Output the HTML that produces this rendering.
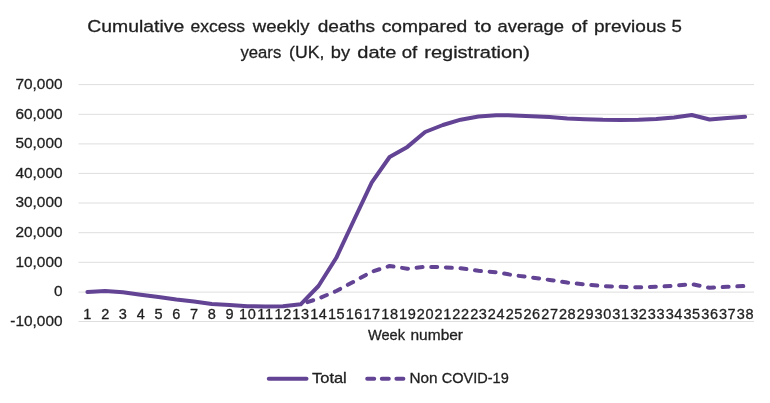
<!DOCTYPE html>
<html lang="en">
<head>
<meta charset="utf-8">
<title>Cumulative excess weekly deaths</title>
<style>
html,body{margin:0;padding:0;background:#fff;}
body{width:770px;height:403px;overflow:hidden;}
svg{display:block;}
text{font-family:"Liberation Sans",sans-serif;fill:#1f1f1f;stroke:#1f1f1f;stroke-width:0.3px;}
.title{font-size:17.4px;}
.ax{font-size:15px;}
.xl{font-size:14.5px;}
.yl{font-size:15.4px;}
.grid line{stroke:#dedede;stroke-width:1;}
.ser{fill:none;stroke:#634494;stroke-width:4;stroke-linecap:round;stroke-linejoin:round;}
</style>
</head>
<body>
<svg width="770" height="403" viewBox="0 0 770 403">
<rect x="0" y="0" width="770" height="403" fill="#ffffff"/>
<text class="title" y="32"><tspan x="87.25" textLength="97.02" lengthAdjust="spacingAndGlyphs">Cumulative</tspan> <tspan x="190.50" textLength="54.52" lengthAdjust="spacingAndGlyphs">excess</tspan> <tspan x="252.75" textLength="56.76" lengthAdjust="spacingAndGlyphs">weekly</tspan> <tspan x="317.75" textLength="57.28" lengthAdjust="spacingAndGlyphs">deaths</tspan> <tspan x="381.75" textLength="85.54" lengthAdjust="spacingAndGlyphs">compared</tspan> <tspan x="474.50" textLength="17.03" lengthAdjust="spacingAndGlyphs">to</tspan> <tspan x="497.50" textLength="66.52" lengthAdjust="spacingAndGlyphs">average</tspan> <tspan x="571.50" textLength="15.75" lengthAdjust="spacingAndGlyphs">of</tspan> <tspan x="594.00" textLength="72.03" lengthAdjust="spacingAndGlyphs">previous</tspan> <tspan x="671.50" textLength="10.38" lengthAdjust="spacingAndGlyphs">5</tspan></text>
<text class="title" y="57.5"><tspan x="240.50" textLength="40.76" lengthAdjust="spacingAndGlyphs">years</tspan> <tspan x="289.00" textLength="35.42" lengthAdjust="spacingAndGlyphs">(UK,</tspan> <tspan x="330.75" textLength="19.30" lengthAdjust="spacingAndGlyphs">by</tspan> <tspan x="357.25" textLength="39.05" lengthAdjust="spacingAndGlyphs">date</tspan> <tspan x="401.75" textLength="15.53" lengthAdjust="spacingAndGlyphs">of</tspan> <tspan x="424.25" textLength="105.55" lengthAdjust="spacingAndGlyphs">registration)</tspan></text>
<text class="ax" y="339.6"><tspan x="368.00" textLength="37.00" lengthAdjust="spacingAndGlyphs">Week</tspan> <tspan x="410.50" textLength="52.52" lengthAdjust="spacingAndGlyphs">number</tspan></text>
<text class="ax" y="383.3"><tspan x="312.00" textLength="34.78" lengthAdjust="spacingAndGlyphs">Total</tspan></text>
<text class="ax" y="383.3"><tspan x="409.50" textLength="28.13" lengthAdjust="spacingAndGlyphs">Non</tspan> <tspan x="441.75" textLength="67.02" lengthAdjust="spacingAndGlyphs">COVID-19</tspan></text>
<g class="grid">
<line x1="78.5" y1="84.6" x2="754.0" y2="84.6"/>
<line x1="78.5" y1="114.3" x2="754.0" y2="114.3"/>
<line x1="78.5" y1="143.9" x2="754.0" y2="143.9"/>
<line x1="78.5" y1="173.4" x2="754.0" y2="173.4"/>
<line x1="78.5" y1="203.0" x2="754.0" y2="203.0"/>
<line x1="78.5" y1="232.7" x2="754.0" y2="232.7"/>
<line x1="78.5" y1="262.3" x2="754.0" y2="262.3"/>
<line x1="78.5" y1="292.1" x2="754.0" y2="292.1"/>
<line x1="78.5" y1="321.5" x2="754.0" y2="321.5"/>
</g>
<g class="ax yl" text-anchor="end">
<text x="62.5" y="88.8">70,000</text>
<text x="62.5" y="118.5">60,000</text>
<text x="62.5" y="148.1">50,000</text>
<text x="62.5" y="177.6">40,000</text>
<text x="62.5" y="207.2">30,000</text>
<text x="62.5" y="236.9">20,000</text>
<text x="62.5" y="266.5">10,000</text>
<text x="62.5" y="296.3">0</text>
<text x="62.5" y="325.7">-10,000</text>
</g>
<g class="ax xl" text-anchor="middle">
<text x="87.4" y="318.5">1</text>
<text x="105.2" y="318.5">2</text>
<text x="122.9" y="318.5">3</text>
<text x="140.7" y="318.5">4</text>
<text x="158.5" y="318.5">5</text>
<text x="176.3" y="318.5">6</text>
<text x="194.0" y="318.5">7</text>
<text x="211.8" y="318.5">8</text>
<text x="229.6" y="318.5">9</text>
<text x="247.7" y="318.5" letter-spacing="0.6">10</text>
<text x="265.5" y="318.5" letter-spacing="0.6">11</text>
<text x="283.2" y="318.5" letter-spacing="0.6">12</text>
<text x="301.0" y="318.5" letter-spacing="0.6">13</text>
<text x="318.8" y="318.5" letter-spacing="0.6">14</text>
<text x="336.6" y="318.5" letter-spacing="0.6">15</text>
<text x="354.3" y="318.5" letter-spacing="0.6">16</text>
<text x="372.1" y="318.5" letter-spacing="0.6">17</text>
<text x="389.9" y="318.5" letter-spacing="0.6">18</text>
<text x="407.7" y="318.5" letter-spacing="0.6">19</text>
<text x="425.4" y="318.5" letter-spacing="0.6">20</text>
<text x="443.2" y="318.5" letter-spacing="0.6">21</text>
<text x="461.0" y="318.5" letter-spacing="0.6">22</text>
<text x="478.8" y="318.5" letter-spacing="0.6">23</text>
<text x="496.5" y="318.5" letter-spacing="0.6">24</text>
<text x="514.3" y="318.5" letter-spacing="0.6">25</text>
<text x="532.1" y="318.5" letter-spacing="0.6">26</text>
<text x="549.9" y="318.5" letter-spacing="0.6">27</text>
<text x="567.6" y="318.5" letter-spacing="0.6">28</text>
<text x="585.4" y="318.5" letter-spacing="0.6">29</text>
<text x="603.2" y="318.5" letter-spacing="0.6">30</text>
<text x="621.0" y="318.5" letter-spacing="0.6">31</text>
<text x="638.8" y="318.5" letter-spacing="0.6">32</text>
<text x="656.5" y="318.5" letter-spacing="0.6">33</text>
<text x="674.3" y="318.5" letter-spacing="0.6">34</text>
<text x="692.1" y="318.5" letter-spacing="0.6">35</text>
<text x="709.9" y="318.5" letter-spacing="0.6">36</text>
<text x="727.6" y="318.5" letter-spacing="0.6">37</text>
<text x="745.4" y="318.5" letter-spacing="0.6">38</text>
</g>
<path class="ser" d="M87.4,292.0 L105.2,291.1 L122.9,292.2 L140.7,294.7 L158.5,296.9 L176.3,299.5 L194.0,301.6 L211.8,304.0 L229.6,305.1 L247.4,306.2 L265.2,306.5 L282.9,306.2 L300.7,304.3 L318.5,286.0 L336.3,257.8 L354.0,220.0 L371.8,182.4 L389.6,157.0 L407.4,146.9 L425.1,132.0 L442.9,125.0 L460.7,119.7 L478.5,116.5 L496.2,115.2 L514.0,115.4 L531.8,116.2 L549.6,117.1 L567.3,118.5 L585.1,119.3 L602.9,119.8 L620.7,119.9 L638.5,119.7 L656.2,119.1 L674.0,117.5 L691.8,115.0 L709.6,119.5 L727.3,117.9 L745.1,116.8"/>
<path class="ser" stroke-dasharray="6 8.66" stroke-dashoffset="7.55" d="M300.7,304.3 L318.5,298.5 L336.3,291.0 L354.0,281.5 L371.8,271.7 L389.6,266.0 L407.4,268.7 L425.1,266.8 L442.9,267.2 L460.7,268.3 L478.5,270.8 L496.2,272.2 L514.0,275.3 L531.8,277.5 L549.6,279.9 L567.3,282.6 L585.1,284.5 L602.9,286.0 L620.7,286.8 L638.5,287.3 L656.2,286.7 L674.0,285.8 L691.8,284.1 L709.6,287.8 L727.3,286.8 L745.1,286.0"/>
<path class="ser" d="M268.8,378.8 L306.5,378.8"/>
<path class="ser" stroke-dasharray="7 7.6" d="M367.2,378.8 L403.4,378.8"/>
</svg>
</body>
</html>
